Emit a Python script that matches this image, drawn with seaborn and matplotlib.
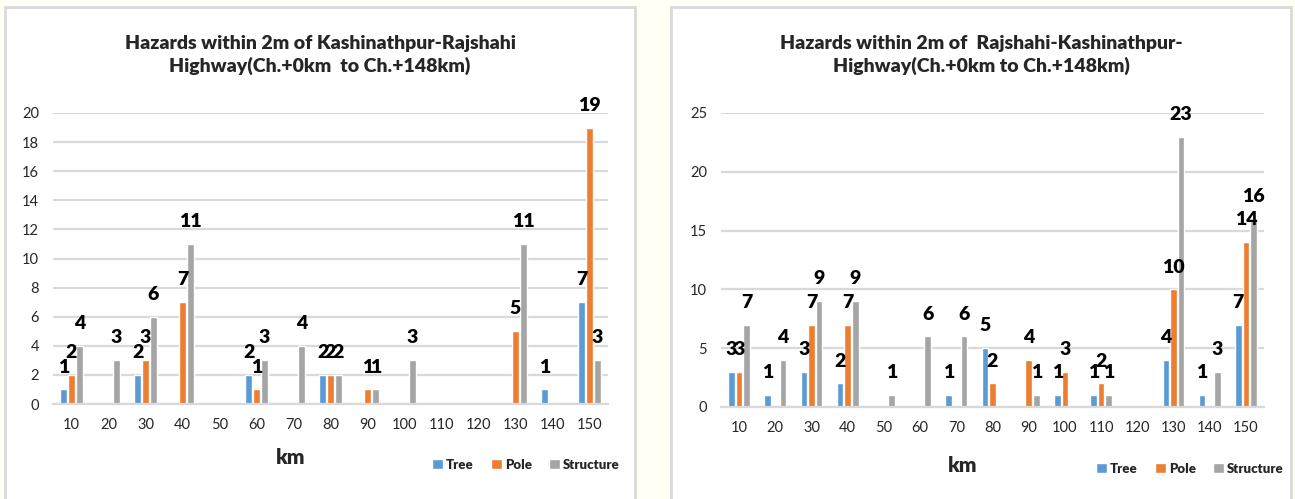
import pandas as pd
import seaborn as sns
import matplotlib.pyplot as plt
from matplotlib.patches import Rectangle, Patch

# km categories shared by both charts
km = ['10', '20', '30', '40', '50', '60', '70', '80', '90', '100',
      '110', '120', '130', '140', '150']

# Kashinathpur -> Rajshahi
tree_kr = [1, 0, 2, 0, 0, 2, 0, 2, 0, 0, 0, 0, 0, 1, 7]
pole_kr = [2, 0, 3, 7, 0, 1, 0, 2, 1, 0, 0, 0, 5, 0, 19]
struct_kr = [4, 3, 6, 11, 0, 3, 4, 2, 1, 3, 0, 0, 11, 0, 3]

# Rajshahi -> Kashinathpur
tree_rk = [3, 1, 3, 2, 0, 0, 1, 5, 0, 1, 1, 0, 4, 1, 7]
pole_rk = [3, 0, 7, 7, 0, 0, 0, 2, 4, 3, 2, 0, 10, 0, 14]
struct_rk = [7, 4, 9, 9, 1, 6, 6, 0, 1, 0, 1, 0, 23, 3, 16]

hazards = ['Tree', 'Pole', 'Structure']
colors = ['#5b9bd5', '#ed7d31', '#a5a5a5']

title_kr = 'Hazards within 2m of Kashinathpur-Rajshahi\nHighway(Ch.+0km  to Ch.+148km)'
title_rk = 'Hazards within 2m of  Rajshahi-Kashinathpur-\nHighway(Ch.+0km to Ch.+148km)'

sns.set_style('white')
plt.rcParams['font.family'] = ['Lato', 'DejaVu Sans']

W, H = 1295, 499
fig = plt.figure(figsize=(W / 100, H / 100), dpi=100, facecolor='#fffff3')


def px(x0, y0, w, h):
    # pixel box (top-left origin) -> figure fraction
    return [x0 / W, (H - y0 - h) / H, w / W, h / H]


def long_df(tree, pole, struct):
    frames = []
    for name, vals in zip(hazards, [tree, pole, struct]):
        frames.append(pd.DataFrame({'km': km, 'count': vals, 'type': name}))
    return pd.concat(frames, ignore_index=True)


def draw(ax, df, ymax, ystep):
    sns.barplot(data=df, x='km', y='count', hue='type', hue_order=hazards,
                palette=colors, width=0.63, gap=0.15, legend=False,
                saturation=1, ax=ax)
    for cont in ax.containers:
        labels = [str(int(v)) if v > 0 else '' for v in cont.datavalues]
        ax.bar_label(cont, labels=labels, padding=10, fontsize=14,
                     fontweight='heavy', color='black')
    ax.set_ylim(0, ymax)
    ax.set_yticks(range(0, ymax + 1, ystep))
    ax.set_xlim(-0.5, len(km) - 0.5)
    ax.yaxis.grid(True, color='#d9d9d9', lw=1.6)
    ax.set_axisbelow(True)
    for s in ['left', 'right', 'top']:
        ax.spines[s].set_visible(False)
    ax.spines['bottom'].set_color('#d9d9d9')
    ax.spines['bottom'].set_linewidth(1.6)
    ax.tick_params(length=0, labelsize=10.5, colors='#262626')
    ax.tick_params(axis='y', pad=10)
    ax.tick_params(axis='x', pad=10)
    ax.set_xlabel('')
    ax.set_ylabel('')


# panel backgrounds
for x0, w in [(5, 630), (671, 620)]:
    fig.patches.append(Rectangle((x0 / W, -0.05), w / W, (H - 7) / H + 0.05,
                                 transform=fig.transFigure, facecolor='white',
                                 edgecolor='#d9d9d9', lw=2, zorder=-1))

ax1 = fig.add_axes(px(53, 113, 555, 291))
draw(ax1, long_df(tree_kr, pole_kr, struct_kr), 20, 2)

ax2 = fig.add_axes(px(721, 113, 543, 294))
draw(ax2, long_df(tree_rk, pole_rk, struct_rk), 25, 5)

fig.text(320 / W, 1 - 55 / H, title_kr, ha='center', va='center',
         fontsize=14, fontweight='heavy', linespacing=1.35)
fig.text(981 / W, 1 - 55 / H, title_rk, ha='center', va='center',
         fontsize=14, fontweight='heavy', linespacing=1.35)

fig.text(291 / W, 1 - 458 / H, 'km', ha='center', va='center',
         fontsize=15, fontweight='heavy')
fig.text(963 / W, 1 - 465 / H, 'km', ha='center', va='center',
         fontsize=15, fontweight='heavy')

handles = [Patch(facecolor=c, label=n) for c, n in zip(colors, hazards)]
for cx, cy in [(526, 465), (1190, 469)]:
    fig.legend(handles=handles, loc='center', bbox_to_anchor=(cx / W, 1 - cy / H),
               ncol=3, frameon=False, handlelength=0.8, handleheight=0.8,
               handletextpad=0.25, columnspacing=1.3,
               prop={'weight': 'heavy', 'size': 9.5})

fig.savefig('out.png', dpi=100, facecolor=fig.get_facecolor())
